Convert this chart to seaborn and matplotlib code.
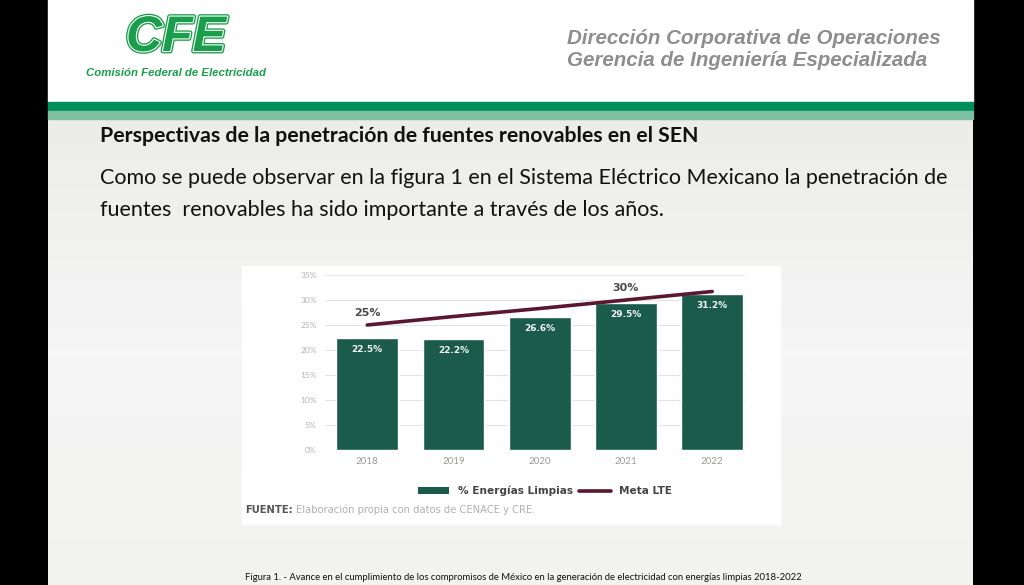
import numpy as np
import pandas as pd
import matplotlib
matplotlib.use("Agg")
import matplotlib.pyplot as plt
import seaborn as sns
from matplotlib.patches import Rectangle, Patch
from matplotlib.lines import Line2D
import matplotlib.patheffects as pe

# ---- data ----
years = ["2018", "2019", "2020", "2021", "2022"]
clean_share = [22.5, 22.2, 26.6, 29.5, 31.2]
meta_lte = [25.0, 26.7, 28.3, 30.0, 31.7]
meta_label_years = ["2018", "2021"]
meta_label_texts = ["25%", "30%"]
y_ticks = [0, 5, 10, 15, 20, 25, 30, 35]
series_names = ["% Energías Limpias", "Meta LTE"]

BAR = "#1a5b4b"
LINE = "#5b1730"
GREEN = "#1a9e4c"
WIDE = ["DejaVu Sans"]

sns.set_theme(style="white")
plt.rcParams['font.family'] = ['Lato', 'DejaVu Sans']

W, H = 1024, 585
fig = plt.figure(figsize=(W / 100, H / 100), dpi=100)

# ---- slide background (pixel coordinates) ----
bg = fig.add_axes([0, 0, 1, 1], zorder=0)
bg.set_xlim(0, W)
bg.set_ylim(H, 0)
bg.axis("off")
bg.add_patch(Rectangle((0, 0), W, H, color="black"))
ny = 200
t = np.linspace(0, 1, ny)
top = np.array([0.925, 0.925, 0.91])
mid = np.array([0.965, 0.965, 0.97])
bot = np.array([0.95, 0.95, 0.94])
cols = np.where(t[:, None] < 0.5, top + (mid - top) * (t[:, None] / 0.5),
                mid + (bot - mid) * ((t[:, None] - 0.5) / 0.5))
img = np.repeat(cols[:, None, :], 2, axis=1)
bg.imshow(img, extent=(48, 973, H, 118), origin="upper", aspect="auto", zorder=1)
bg.set_xlim(0, W)
bg.set_ylim(H, 0)
bg.add_patch(Rectangle((48, 0), 925, 102, color="white", zorder=2))
bg.add_patch(Rectangle((48, 102), 925, 8.5, color="#00915b", zorder=2))
bg.add_patch(Rectangle((48, 110.5), 925, 8, color="#7dbf9f", zorder=2))
bg.add_patch(Rectangle((242, 266), 538, 258, color="white", zorder=2))

# header logo & texts
bg.text(176, 38, "CFE", fontsize=36, fontweight="bold", fontstyle="italic",
        family=["Liberation Sans", "DejaVu Sans"],
        color=GREEN, ha="center", va="center", zorder=3,
        path_effects=[pe.Stroke(linewidth=3.5, foreground=GREEN),
                      pe.Stroke(linewidth=1.6, foreground="white"),
                      pe.Normal()])
bg.text(176, 73, "Comisión Federal de Electricidad", fontsize=8.2,
        fontweight="bold", fontstyle="italic",
        family=["Liberation Sans", "DejaVu Sans"],
        color=GREEN, ha="center", va="center", zorder=3)
hdr = dict(fontsize=14.8, fontweight="bold", fontstyle="italic",
           family=["Liberation Sans", "DejaVu Sans"], color="#8e8e8e",
           ha="left", va="center", zorder=3)
bg.text(567, 38, "Dirección Corporativa de Operaciones", **hdr)
bg.text(567, 60, "Gerencia de Ingeniería Especializada", **hdr)

bg.text(100, 136, "Perspectivas de la penetración de fuentes renovables en el SEN",
        fontsize=15.3, fontweight="bold", color="#111111", ha="left", va="center", zorder=3)
bg.text(100, 178, "Como se puede observar en la figura 1 en el Sistema Eléctrico Mexicano la penetración de",
        fontsize=15.5, color="#111111", ha="left", va="center", zorder=3)
bg.text(100, 210, "fuentes  renovables ha sido importante a través de los años.",
        fontsize=15.5, color="#111111", ha="left", va="center", zorder=3)

f1 = bg.text(245, 510, "FUENTE:", fontsize=7.2, fontweight="bold", color="#555555",
             family=WIDE, ha="left", va="center", zorder=3)
bg.annotate("Elaboración propia con datos de CENACE y CRE.", xy=(1, 0.5),
            xycoords=f1, xytext=(2.5, 0), textcoords="offset points",
            fontsize=7.2, color="#b0b0b0", family=WIDE,
            ha="left", va="center", zorder=3)
bg.text(245, 577, "Figura 1. - Avance en el cumplimiento de los compromisos de México en la generación de electricidad con energías limpias 2018-2022",
        fontsize=6.8, color="#111111", ha="left", va="center", zorder=3)

# ---- chart ----
df = pd.DataFrame({"year": years, "share": clean_share, "meta": meta_lte})
ax = fig.add_axes([325 / W, 1 - 450 / H, 420 / W, 175 / H], zorder=5)
ax.patch.set_alpha(0)
sns.barplot(data=df, x="year", y="share", color=BAR, saturation=1,
            width=0.715, ax=ax, zorder=3)
pos = np.arange(len(years))
sns.lineplot(x=pos, y=df["meta"], color=LINE, linewidth=2.6, ax=ax, zorder=4)

for p, v in zip(pos, clean_share):
    ax.text(p, v - 2.3, f"{v:.1f}%", color="#f4f4f4", fontsize=6.5,
            fontweight="bold", family=WIDE,
            ha="center", va="center", zorder=5)
for yr, lab in zip(meta_label_years, meta_label_texts):
    i = years.index(yr)
    ax.text(i, meta_lte[i] + 2.4, lab, color="#4a4a4a", fontsize=8,
            fontweight="bold", family=WIDE,
            ha="center", va="center", zorder=5)

ax.set_ylim(0, 35)
ax.set_xlim(-0.49, 4.38)
ax.set_yticks(y_ticks)
ax.set_yticklabels([f"{v}%" for v in y_ticks])
ax.yaxis.grid(True, color="#e4e4e4", linewidth=0.8)
ax.set_axisbelow(True)
for s in ax.spines.values():
    s.set_visible(False)
ax.set_xlabel("")
ax.set_ylabel("")
ax.tick_params(axis="y", labelsize=6, labelcolor="#b3b3b3", length=0, pad=6)
ax.tick_params(axis="x", labelsize=7, labelcolor="#9a9a9a", length=0, pad=5)

handles = [Patch(facecolor=BAR, edgecolor="none"),
           Line2D([0], [0], color=LINE, linewidth=2.6)]
leg = fig.legend(handles, series_names, loc="center", ncol=2, frameon=False,
                 bbox_to_anchor=(545 / W, 1 - 491 / H),
                 prop={"family": WIDE, "size": 7.6, "weight": "bold"},
                 handlelength=3.0, handleheight=0.6, columnspacing=0.6,
                 handletextpad=0.8)
for txt in leg.get_texts():
    txt.set_color("#444444")

fig.savefig("out.png", dpi=100)
